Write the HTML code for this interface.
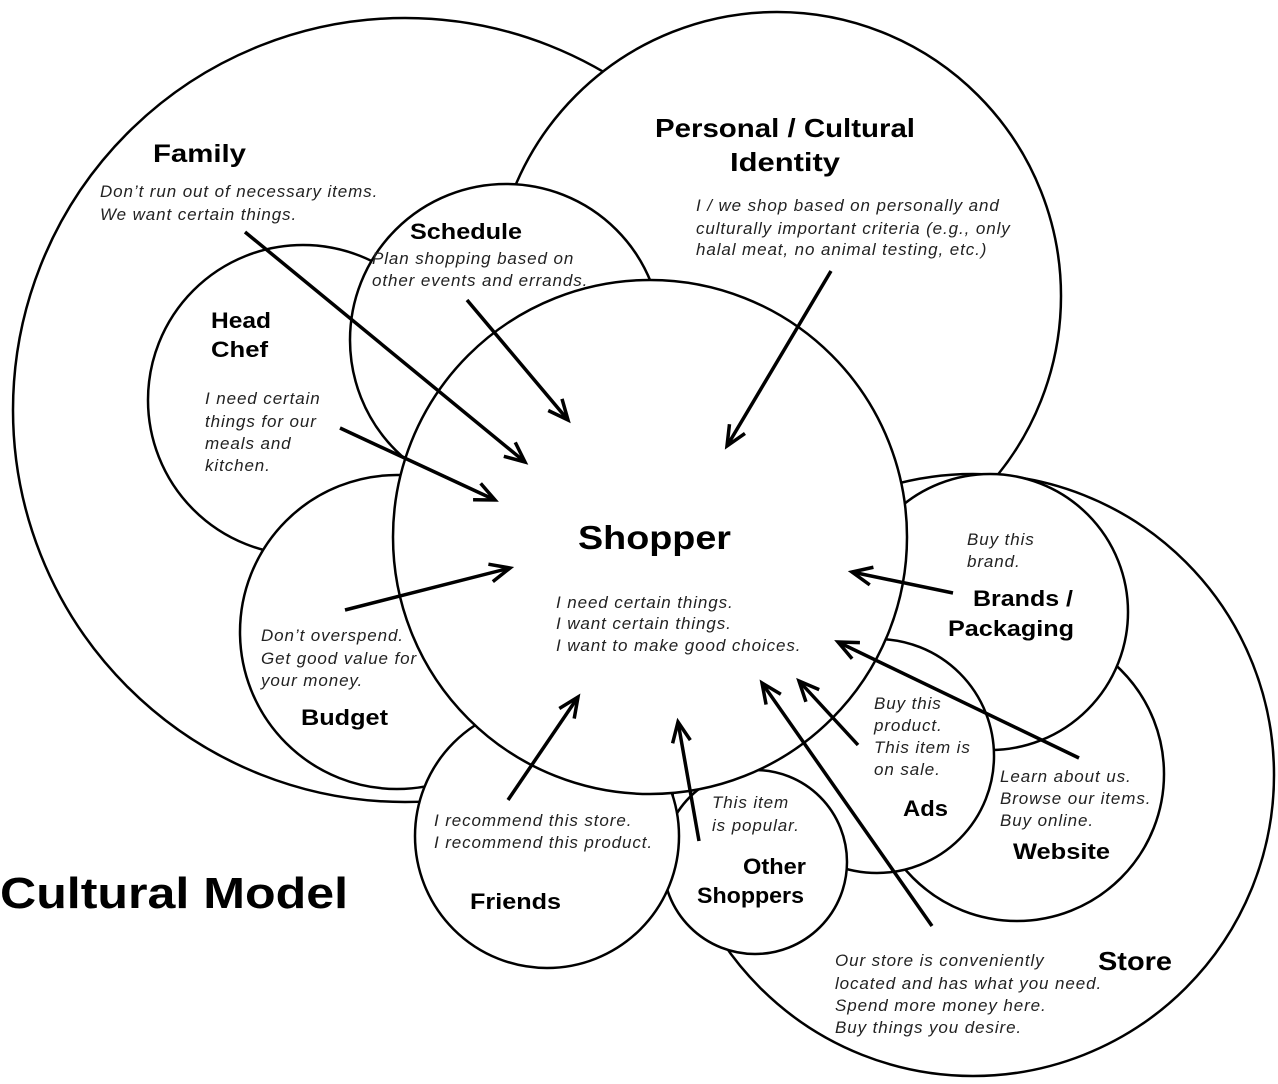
<!DOCTYPE html>
<html><head><meta charset="utf-8"><style>
html,body{margin:0;padding:0;background:#fff;}
svg{display:block;}
text{font-family:"Liberation Sans",sans-serif;fill:#000;}
.t{font-weight:bold;}
.i{font-style:italic;font-size:17px;letter-spacing:0.9px;fill:#222;}
</style></head><body>
<svg width="1278" height="1084" viewBox="0 0 1278 1084" xmlns="http://www.w3.org/2000/svg">
<defs>
<marker id="a" markerUnits="userSpaceOnUse" markerWidth="30" markerHeight="30" refX="22" refY="10" orient="auto" viewBox="0 0 30 20">
<path d="M2,1 L22,10 L2,19" fill="none" stroke="#000" stroke-width="3.5"/>
</marker>
</defs>
<g fill="#fff" stroke="#000" stroke-width="2.5">
<circle cx="405" cy="410" r="392"/>
<circle cx="777" cy="296" r="284"/>
<circle cx="973" cy="775" r="301"/>
<circle cx="1017" cy="774" r="147"/>
<circle cx="990" cy="612" r="138"/>
<circle cx="877" cy="756" r="117"/>
<circle cx="303" cy="400" r="155"/>
<circle cx="506" cy="340" r="156"/>
<circle cx="397" cy="632" r="157"/>
<circle cx="755" cy="862" r="92"/>
<circle cx="547" cy="836" r="132"/>
<circle cx="650" cy="537" r="257"/>
</g>
<g stroke="#000" stroke-width="3.5" marker-end="url(#a)">
<line x1="245" y1="232" x2="525" y2="462"/>
<line x1="467" y1="300" x2="568" y2="420"/>
<line x1="831" y1="271" x2="727" y2="446"/>
<line x1="340" y1="428" x2="495" y2="500"/>
<line x1="345" y1="610" x2="510" y2="568"/>
<line x1="508" y1="800" x2="578" y2="697"/>
<line x1="699" y1="841" x2="678" y2="722"/>
<line x1="932" y1="926" x2="762" y2="683"/>
<line x1="858" y1="745" x2="799" y2="681"/>
<line x1="1079" y1="758" x2="838" y2="642"/>
<line x1="953" y1="593" x2="852" y2="572"/>
</g>
<text class="t" x="153" y="162" font-size="25" textLength="93" lengthAdjust="spacingAndGlyphs">Family</text>
<text class="i" x="100" y="197">Don’t run out of necessary items.</text>
<text class="i" x="100" y="220">We want certain things.</text>
<text class="t" x="655" y="137" font-size="26" textLength="260" lengthAdjust="spacingAndGlyphs">Personal / Cultural</text>
<text class="t" x="730" y="171" font-size="26" textLength="110" lengthAdjust="spacingAndGlyphs">Identity</text>
<text class="i" x="696" y="211">I / we shop based on personally and</text>
<text class="i" x="696" y="234">culturally important criteria (e.g., only</text>
<text class="i" x="696" y="255">halal meat, no animal testing, etc.)</text>
<text class="t" x="410" y="239" font-size="22" textLength="112" lengthAdjust="spacingAndGlyphs">Schedule</text>
<text class="i" x="372" y="264">Plan shopping based on</text>
<text class="i" x="372" y="286">other events and errands.</text>
<text class="t" x="211" y="328" font-size="22" textLength="60" lengthAdjust="spacingAndGlyphs">Head</text>
<text class="t" x="211" y="357" font-size="22" textLength="57" lengthAdjust="spacingAndGlyphs">Chef</text>
<text class="i" x="205" y="404">I need certain</text>
<text class="i" x="205" y="427">things for our</text>
<text class="i" x="205" y="449">meals and</text>
<text class="i" x="205" y="471">kitchen.</text>
<text class="t" x="578" y="549" font-size="33" textLength="153" lengthAdjust="spacingAndGlyphs">Shopper</text>
<text class="i" x="556" y="608">I need certain things.</text>
<text class="i" x="556" y="629">I want certain things.</text>
<text class="i" x="556" y="651">I want to make good choices.</text>
<text class="i" x="967" y="545">Buy this</text>
<text class="i" x="967" y="567">brand.</text>
<text class="t" x="973" y="606" font-size="22" textLength="100" lengthAdjust="spacingAndGlyphs">Brands /</text>
<text class="t" x="948" y="636" font-size="22" textLength="126" lengthAdjust="spacingAndGlyphs">Packaging</text>
<text class="i" x="261" y="641">Don’t overspend.</text>
<text class="i" x="261" y="664">Get good value for</text>
<text class="i" x="261" y="686">your money.</text>
<text class="t" x="301" y="725" font-size="22" textLength="87" lengthAdjust="spacingAndGlyphs">Budget</text>
<text class="i" x="874" y="709">Buy this</text>
<text class="i" x="874" y="731">product.</text>
<text class="i" x="874" y="753">This item is</text>
<text class="i" x="874" y="775">on sale.</text>
<text class="t" x="903" y="816" font-size="22" textLength="45" lengthAdjust="spacingAndGlyphs">Ads</text>
<text class="i" x="1000" y="782">Learn about us.</text>
<text class="i" x="1000" y="804">Browse our items.</text>
<text class="i" x="1000" y="826">Buy online.</text>
<text class="t" x="1013" y="859" font-size="22" textLength="97" lengthAdjust="spacingAndGlyphs">Website</text>
<text class="i" x="712" y="808">This item</text>
<text class="i" x="712" y="831">is popular.</text>
<text class="t" x="743" y="874" font-size="22" textLength="63" lengthAdjust="spacingAndGlyphs">Other</text>
<text class="t" x="697" y="903" font-size="22" textLength="107" lengthAdjust="spacingAndGlyphs">Shoppers</text>
<text class="i" x="434" y="826">I recommend this store.</text>
<text class="i" x="434" y="848">I recommend this product.</text>
<text class="t" x="470" y="909" font-size="22" textLength="91" lengthAdjust="spacingAndGlyphs">Friends</text>
<text class="t" x="0" y="908" font-size="44" textLength="348" lengthAdjust="spacingAndGlyphs">Cultural Model</text>
<text class="t" x="1098" y="970" font-size="26" textLength="74" lengthAdjust="spacingAndGlyphs">Store</text>
<text class="i" x="835" y="966">Our store is conveniently</text>
<text class="i" x="835" y="989">located and has what you need.</text>
<text class="i" x="835" y="1011">Spend more money here.</text>
<text class="i" x="835" y="1033">Buy things you desire.</text>
</svg>
</body></html>
